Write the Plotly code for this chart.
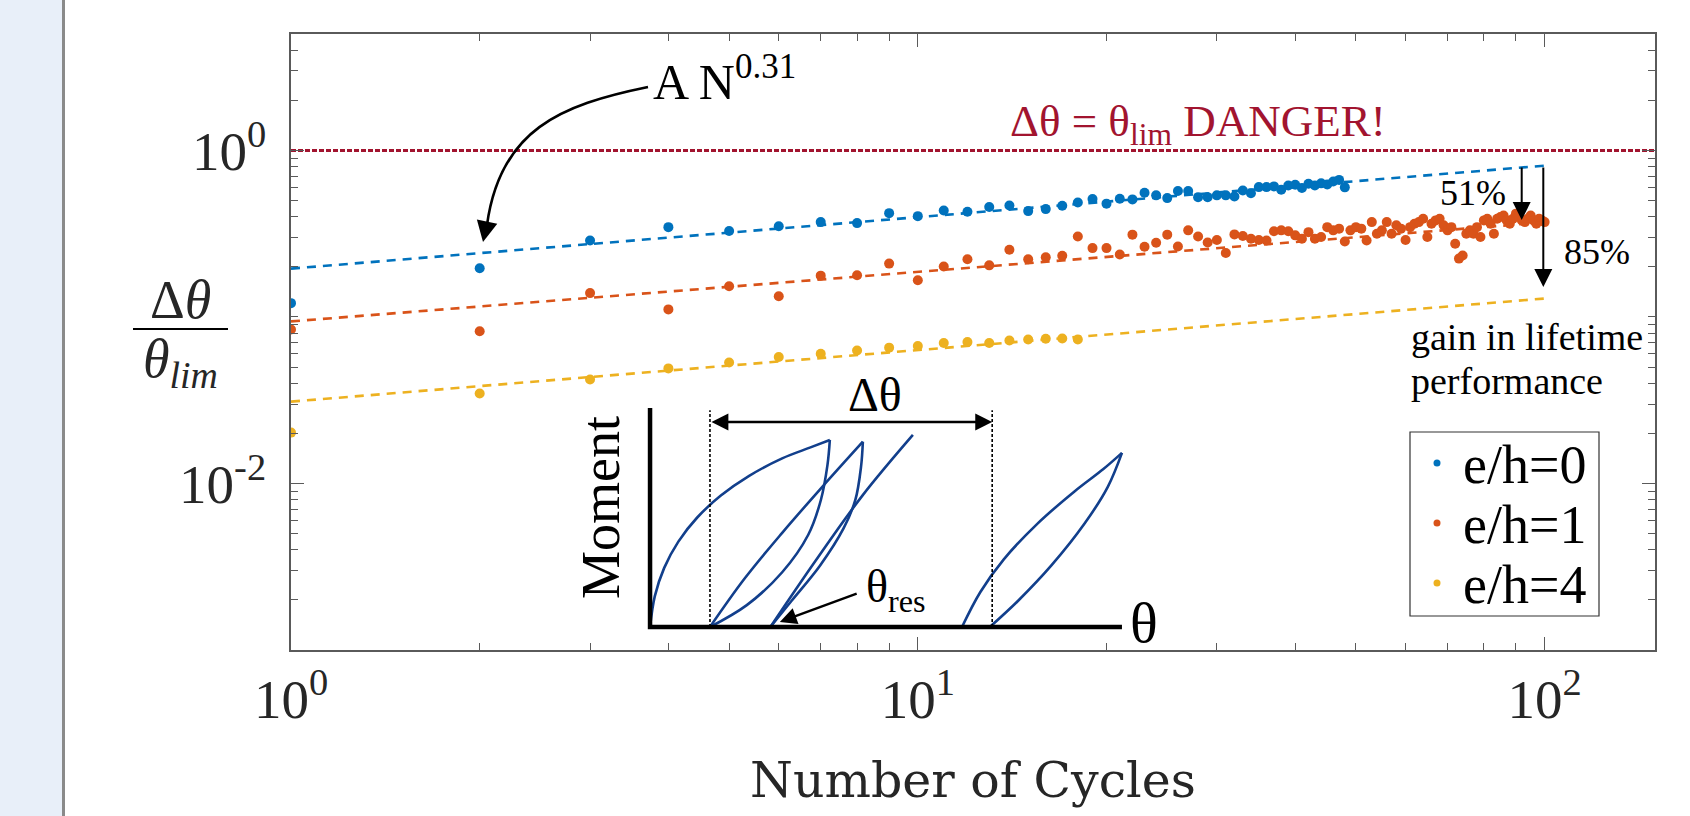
import plotly.graph_objects as go

# ---------------- data ----------------
cycles_blue = list(range(1, 49))
blue_vals = [0.121, 0.196, 0.288, 0.346, 0.328, 0.350, 0.371, 0.366, 0.420, 0.403,
             0.436, 0.428, 0.457, 0.467, 0.432, 0.444, 0.465, 0.487, 0.510, 0.479,
             0.513, 0.508, 0.557, 0.537, 0.517, 0.570, 0.570, 0.524, 0.524, 0.537,
             0.537, 0.529, 0.575, 0.553, 0.602, 0.602, 0.608, 0.581, 0.616, 0.622,
             0.594, 0.631, 0.616, 0.634, 0.625, 0.651, 0.665, 0.600]

cycles_orange = list(range(1, 101))
orange_vals = [0.084, 0.082, 0.139, 0.111, 0.153, 0.133, 0.177, 0.178, 0.209, 0.166,
               0.201, 0.222, 0.204, 0.253, 0.222, 0.228, 0.233, 0.304, 0.259, 0.259,
               0.237, 0.312, 0.264, 0.279, 0.312, 0.265, 0.331, 0.304, 0.280, 0.290,
               0.242, 0.313, 0.306, 0.295, 0.290, 0.288, 0.327, 0.331, 0.327, 0.309,
               0.295, 0.323, 0.295, 0.302, 0.346, 0.331, 0.339, 0.284, 0.331, 0.346,
               0.339, 0.288, 0.371, 0.316, 0.331, 0.371, 0.316, 0.355, 0.339, 0.290,
               0.346, 0.363, 0.371, 0.389, 0.302, 0.363, 0.380, 0.389, 0.355, 0.331,
               0.346, 0.275, 0.224, 0.234, 0.316, 0.331, 0.316, 0.346, 0.302, 0.380,
               0.389, 0.363, 0.316, 0.389, 0.398, 0.407, 0.380, 0.363, 0.389, 0.417,
               0.398, 0.380, 0.371, 0.389, 0.407, 0.380, 0.363, 0.389, 0.380, 0.371]

cycles_yellow = list(range(1, 19))
yellow_vals = [0.0202, 0.0347, 0.0421, 0.0491, 0.0533, 0.0574, 0.0601, 0.0629, 0.0654,
               0.0668, 0.0697, 0.0706, 0.0697, 0.0722, 0.0732, 0.0739, 0.0743, 0.0732]

fit_x = [1, 100]
fit_blue = [0.195, 0.81]
fit_orange = [0.094, 0.37]
fit_yellow = [0.031, 0.129]

danger_x = [1, 150]
danger_y = [1, 1]

series_names = ["e/h=0", "e/h=1", "e/h=4"]
x_tick_vals = [1, 10, 100]
x_tick_text = ["10<sup>0</sup>", "10<sup>1</sup>", "10<sup>2</sup>"]
y_tick_vals = [0.01, 1]
y_tick_text = ["10<sup>-2</sup>", "10<sup>0</sup>"]

# inset sketch (schematic moment-rotation loops, inset units 0..100)
load0_u = [0, 1, 3, 6, 10, 15, 21, 28, 34, 38.1]
load0_m = [0, 14, 27, 39, 50, 60, 69, 77, 82, 85.4]
unload1_u = [38.1, 37.6, 36.2, 33.5, 28, 20.5, 12.7]
unload1_m = [85.4, 74, 58, 42, 25, 10, 0]
reload1_u = [12.7, 20, 28, 36.5, 45.1]
reload1_m = [0, 22, 43, 64, 84.6]
unload2_u = [45.1, 44.7, 43.5, 41, 36, 30, 25.5]
unload2_m = [84.6, 73, 58, 45, 28, 12, 0]
reload2_u = [25.5, 35, 45, 55.7]
reload2_m = [0, 30, 60, 87.7]
lens_up_u = [66.1, 70, 75, 82, 90, 96, 100]
lens_up_m = [0, 16, 31, 47, 62, 72, 79.5]
lens_lo_u = [100, 97, 92, 85, 78, 72]
lens_lo_m = [79.5, 64, 47, 28, 12, 0]
res_first_u = 12.7
res_last_u = 72.5

# ---------------- styling ----------------
C_BLUE, C_ORANGE, C_YELLOW = "#0072BD", "#D95319", "#EDB120"
C_DARKRED = "#A2142F"
C_NAVY = "#123F8C"
AX = "#5a5a5a"
TIMES = "Liberation Serif, Times New Roman, serif"
TXT = "#262626"

W, H = 1690, 816
ML, MR, MT, MB = 291, 35, 34, 166
PW, PH = W - ML - MR, H - MT - MB


def px(X):
    return (X - ML) / PW


def py(Y):
    return (H - MB - Y) / PH


fig = go.Figure()

colors = [C_BLUE, C_ORANGE, C_YELLOW]
for name, xs, ys, c in zip(series_names, [cycles_blue, cycles_orange, cycles_yellow],
                           [blue_vals, orange_vals, yellow_vals], colors):
    fig.add_trace(go.Scatter(x=xs, y=ys, mode="markers", name=name,
                             marker=dict(color=c, size=10), hoverinfo="skip"))

for ys, c in zip([fit_blue, fit_orange, fit_yellow], colors):
    fig.add_trace(go.Scatter(x=fit_x, y=ys, mode="lines", showlegend=False,
                             line=dict(color=c, width=2.6, dash="9px,7px"), hoverinfo="skip"))

fig.add_trace(go.Scatter(x=danger_x, y=danger_y, mode="lines", showlegend=False,
                         line=dict(color=C_DARKRED, width=3, dash="5px,2px"), hoverinfo="skip"))

# inset traces
for us, ms in [(load0_u, load0_m), (unload1_u, unload1_m), (reload1_u, reload1_m),
               (unload2_u, unload2_m), (reload2_u, reload2_m), (lens_up_u, lens_up_m),
               (lens_lo_u, lens_lo_m)]:
    fig.add_trace(go.Scatter(x=us, y=ms, xaxis="x2", yaxis="y2", mode="lines",
                             line=dict(color=C_NAVY, width=2.6, shape="spline", smoothing=1.0),
                             showlegend=False, hoverinfo="skip"))
# inset axes
fig.add_trace(go.Scatter(x=[0, 0, 100], y=[100, 0, 0], xaxis="x2", yaxis="y2", mode="lines",
                         line=dict(color="black", width=4.5), showlegend=False, hoverinfo="skip"))
for u in [res_first_u, res_last_u]:
    fig.add_trace(go.Scatter(x=[u, u], y=[0, 99], xaxis="x2", yaxis="y2", mode="lines",
                             line=dict(color="black", width=1.6, dash="3px,2px"),
                             showlegend=False, hoverinfo="skip"))

minor_x = [m for m in range(2, 10)] + [10 * m for m in range(2, 10)]
minor_y = [m * 10.0 ** e for e in range(-3, 1) for m in range(1, 10)
           if m * 10.0 ** e <= 5 and not (m == 1 and e in (-2, 0))]

axis_common = dict(showline=True, linecolor=AX, linewidth=1.6, mirror="ticks",
                   ticks="inside", tickcolor=AX, tickwidth=1.2, ticklen=13,
                   showgrid=False, zeroline=False,
                   tickfont=dict(family=TIMES, size=55, color=TXT))

fig.update_layout(
    width=W, height=H,
    margin=dict(l=ML, r=MR, t=MT, b=MB, pad=0),
    paper_bgcolor="white", plot_bgcolor="white",
    xaxis=dict(type="log", range=[0, 2.1761], tickvals=x_tick_vals, ticktext=x_tick_text,
               ticklabelstandoff=0,
               minor=dict(ticks="inside", ticklen=7, tickvals=minor_x, tickcolor=AX, tickwidth=1.2),
               **axis_common),
    yaxis=dict(type="log", range=[-3, 0.69897], tickvals=y_tick_vals, ticktext=y_tick_text,
               ticklabelstandoff=12,
               minor=dict(ticks="inside", ticklen=7, tickvals=minor_y, tickcolor=AX, tickwidth=1.2),
               **axis_common),
    xaxis2=dict(domain=[px(640.6), px(1131.4)], range=[-2, 102], visible=False, anchor="y2"),
    yaxis2=dict(domain=[py(631.4), py(403.6)], range=[-2, 102], visible=False, anchor="x2"),
    showlegend=False,
)

shapes = []
# left light panel and divider
shapes.append(dict(type="rect", xref="paper", yref="paper", x0=px(0), x1=px(62),
                   y0=py(H), y1=py(0), fillcolor="#E8EFF9", line=dict(width=0), layer="below"))
shapes.append(dict(type="line", xref="paper", yref="paper", x0=px(63.5), x1=px(63.5),
                   y0=py(H), y1=py(0), line=dict(color="#8a8a8a", width=3)))
# fraction bar of y label
shapes.append(dict(type="line", xref="paper", yref="paper", x0=px(133), x1=px(228),
                   y0=py(329), y1=py(329), line=dict(color="black", width=2)))
# curved arrow to the fit line
shapes.append(dict(type="path", xref="paper", yref="paper",
                   path="M {},{} C {},{} {},{} {},{}".format(px(648), py(87), px(560), py(105),
                                                             px(500), py(130), px(487), py(225)),
                   line=dict(color="black", width=2.6)))
# legend box and symbols
shapes.append(dict(type="rect", xref="paper", yref="paper", x0=px(1410), x1=px(1599),
                   y0=py(616), y1=py(432), fillcolor="white", line=dict(color="#333333", width=1.2)))
legend_rows_y = [463, 523, 583]
for c, ly in zip(colors, legend_rows_y):
    shapes.append(dict(type="circle", xref="paper", yref="paper", x0=px(1433.5), x1=px(1440.5),
                       y0=py(ly + 3.5), y1=py(ly - 3.5), fillcolor=c, line=dict(width=0)))
fig.update_layout(shapes=shapes)

ann = []
for name, ly in zip(series_names, legend_rows_y):
    ann.append(dict(xref="paper", yref="paper", x=px(1461), y=py(ly + 2), xanchor="left",
                    yanchor="middle", text=name, showarrow=False,
                    font=dict(family=TIMES, size=54, color="black")))
ann.append(dict(xref="paper", yref="paper", x=px(483), y=py(242), ax=4, ay=-20, text="",
                showarrow=True, arrowhead=2, arrowsize=1.6, arrowwidth=2.6, arrowcolor="black"))
ann.append(dict(xref="paper", yref="paper", x=px(651), y=py(79), xanchor="left", yanchor="middle",
                text="A N<sup>0.31</sup>", showarrow=False,
                font=dict(family=TIMES, size=50, color="black")))
ann.append(dict(xref="paper", yref="paper", x=px(1198), y=py(124), xanchor="center", yanchor="middle",
                text="Δθ = θ<sub>lim</sub> DANGER!", showarrow=False,
                font=dict(family=TIMES, size=45, color=C_DARKRED)))
ann.append(dict(xref="paper", yref="paper", x=px(1521.7), y=py(220), ax=0, ay=-54, text="",
                showarrow=True, arrowhead=2, arrowsize=1.8, arrowwidth=2, arrowcolor="black"))
ann.append(dict(xref="paper", yref="paper", x=px(1543.3), y=py(287), ax=0, ay=-121, text="",
                showarrow=True, arrowhead=2, arrowsize=1.8, arrowwidth=2, arrowcolor="black"))
ann.append(dict(xref="paper", yref="paper", x=px(1473), y=py(193), xanchor="center", yanchor="middle",
                text="51%", showarrow=False, font=dict(family=TIMES, size=36, color="black")))
ann.append(dict(xref="paper", yref="paper", x=px(1597), y=py(252), xanchor="center", yanchor="middle",
                text="85%", showarrow=False, font=dict(family=TIMES, size=36, color="black")))
ann.append(dict(xref="paper", yref="paper", x=px(1409), y=py(337), xanchor="left", yanchor="middle",
                text="gain in lifetime", showarrow=False, font=dict(family=TIMES, size=38, color="black")))
ann.append(dict(xref="paper", yref="paper", x=px(1409), y=py(381), xanchor="left", yanchor="middle",
                text="performance", showarrow=False, font=dict(family=TIMES, size=38, color="black")))
# axis titles
ann.append(dict(xref="paper", yref="paper", x=0.5, y=py(781), xanchor="center", yanchor="middle",
                text="Number of Cycles", showarrow=False,
                font=dict(family="DejaVu Serif", size=49, color=TXT)))
ann.append(dict(xref="paper", yref="paper", x=px(180), y=py(300), xanchor="center", yanchor="middle",
                text="Δ<i>θ</i>", showarrow=False, font=dict(family=TIMES, size=54, color=TXT)))
ann.append(dict(xref="paper", yref="paper", x=px(180), y=py(362), xanchor="center", yanchor="middle",
                text="<i>θ</i><sub><i>lim</i></sub>", showarrow=False,
                font=dict(family=TIMES, size=54, color=TXT)))
# inset texts and arrows
ann.append(dict(xref="x2", yref="y2", x=res_last_u, y=93.6, ax=res_first_u, ay=93.6,
                axref="x2", ayref="y2", text="", showarrow=True, arrowhead=2, startarrowhead=2,
                arrowside="end+start", arrowsize=1.3, startarrowsize=1.3, arrowwidth=2.6,
                arrowcolor="black"))
ann.append(dict(xref="paper", yref="paper", x=px(875), y=py(394), xanchor="center", yanchor="middle",
                text="Δθ", showarrow=False, font=dict(family=TIMES, size=48, color="black")))
ann.append(dict(xref="paper", yref="paper", x=px(601), y=py(508), xanchor="center", yanchor="middle",
                text="Moment", textangle=-90, showarrow=False,
                font=dict(family=TIMES, size=54, color="black")))
ann.append(dict(xref="paper", yref="paper", x=px(1128), y=py(622), xanchor="left", yanchor="middle",
                text="θ", showarrow=False, font=dict(family=TIMES, size=58, color="black")))
ann.append(dict(xref="x2", yref="y2", x=45.3, y=17, xanchor="left", text="θ<sub>res</sub>",
                showarrow=False, font=dict(family=TIMES, size=46, color="black")))
ann.append(dict(xref="x2", yref="y2", x=27.5, y=2.3, ax=44.1, ay=15.5, axref="x2", ayref="y2",
                text="", showarrow=True, arrowhead=2, arrowsize=1.4, arrowwidth=2.4,
                arrowcolor="black"))
fig.update_layout(annotations=ann)

fig.write_html("out.html", config={"displayModeBar": False},
               post_script="document.body.style.margin='0';document.body.style.overflow='hidden';")
